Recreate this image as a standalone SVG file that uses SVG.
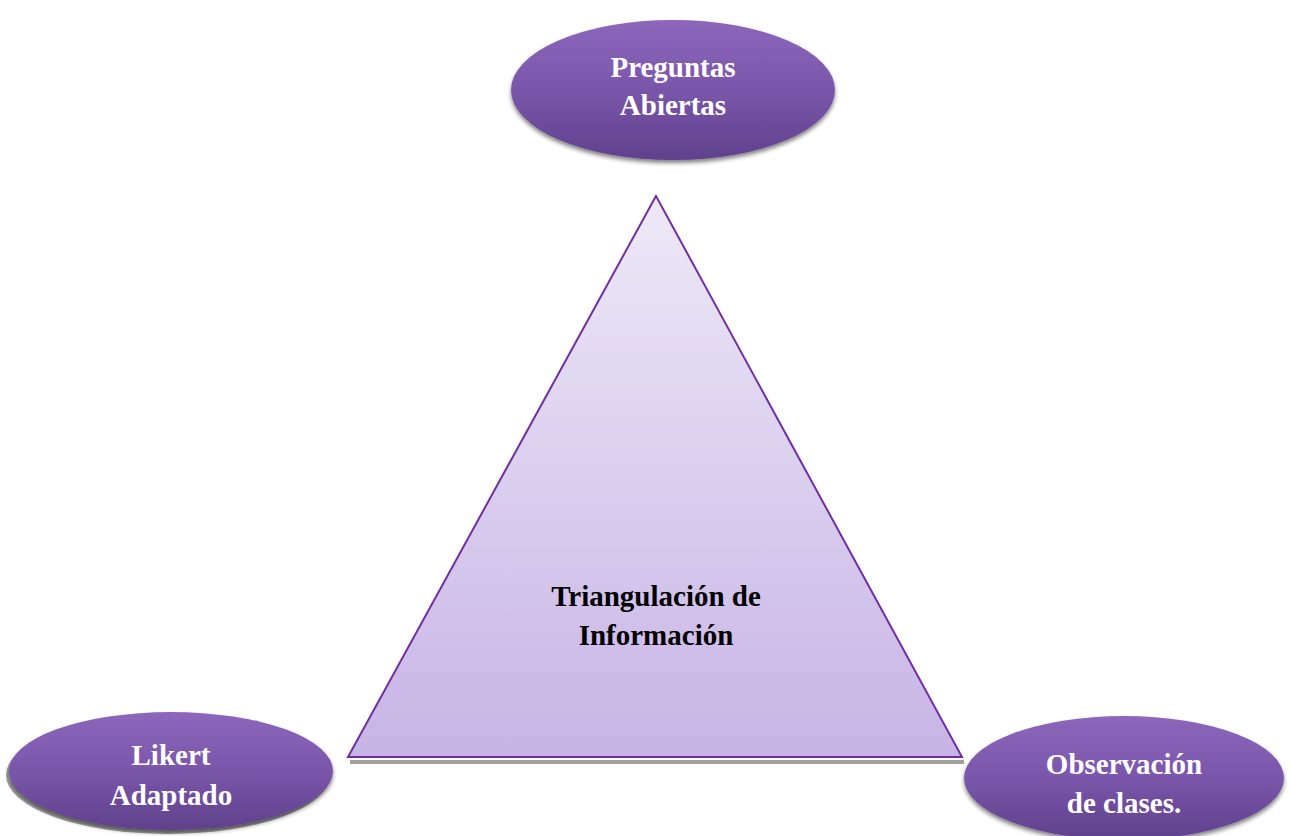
<svg xmlns="http://www.w3.org/2000/svg" width="1291" height="836" viewBox="0 0 1291 836">
<defs>
<linearGradient id="ell" x1="0" y1="0" x2="0" y2="1">
<stop offset="0" stop-color="#8c67bb"/>
<stop offset="0.5" stop-color="#7a56aa"/>
<stop offset="1" stop-color="#5f418c"/>
</linearGradient>
<linearGradient id="tri" x1="0" y1="0" x2="0" y2="1">
<stop offset="0" stop-color="#eee9f7"/>
<stop offset="1" stop-color="#c7b4e6"/>
</linearGradient>
<filter id="sh" x="-10%" y="-10%" width="120%" height="130%">
<feGaussianBlur in="SourceAlpha" stdDeviation="2"/>
<feOffset dx="0" dy="3"/>
<feComponentTransfer><feFuncA type="linear" slope="0.5"/></feComponentTransfer>
<feMerge><feMergeNode/><feMergeNode in="SourceGraphic"/></feMerge>
</filter>
</defs>
<style>
.node{fill:url(#ell);filter:url(#sh)}
.wt{font-family:"Liberation Serif",serif;font-weight:bold;font-size:29px;fill:#ffffff;text-anchor:middle}
.bt{font-family:"Liberation Serif",serif;font-weight:bold;font-size:29px;fill:#000000;text-anchor:middle}
</style>
<rect width="1291" height="836" fill="#ffffff"/>
<g id="triangle">
<polygon points="350,760 964,760 964,764 350,764" fill="#a0a0a0"/>
<polygon points="656,196 348,757 962,757" fill="url(#tri)" stroke="#7030a0" stroke-width="2" stroke-linejoin="miter"/>
<text class="bt" x="656" y="606">Triangulación de</text>
<text class="bt" x="656" y="645">Información</text>
</g>
<g id="preguntas">
<ellipse class="node" cx="673" cy="90" rx="162" ry="70"/>
<text class="wt" x="673" y="77">Preguntas</text>
<text class="wt" x="673" y="115">Abiertas</text>
</g>
<g id="likert">
<ellipse cx="168" cy="775" rx="162" ry="59" fill="#a0a0a0"/>
<ellipse class="node" cx="171" cy="771" rx="162" ry="59"/>
<text class="wt" x="171" y="765">Likert</text>
<text class="wt" x="171" y="805">Adaptado</text>
</g>
<g id="observacion">
<ellipse class="node" cx="1124" cy="778" rx="160" ry="62"/>
<text class="wt" x="1124" y="774">Observación</text>
<text class="wt" x="1124" y="813">de clases.</text>
</g>
<g id="connectors"></g>
</svg>
